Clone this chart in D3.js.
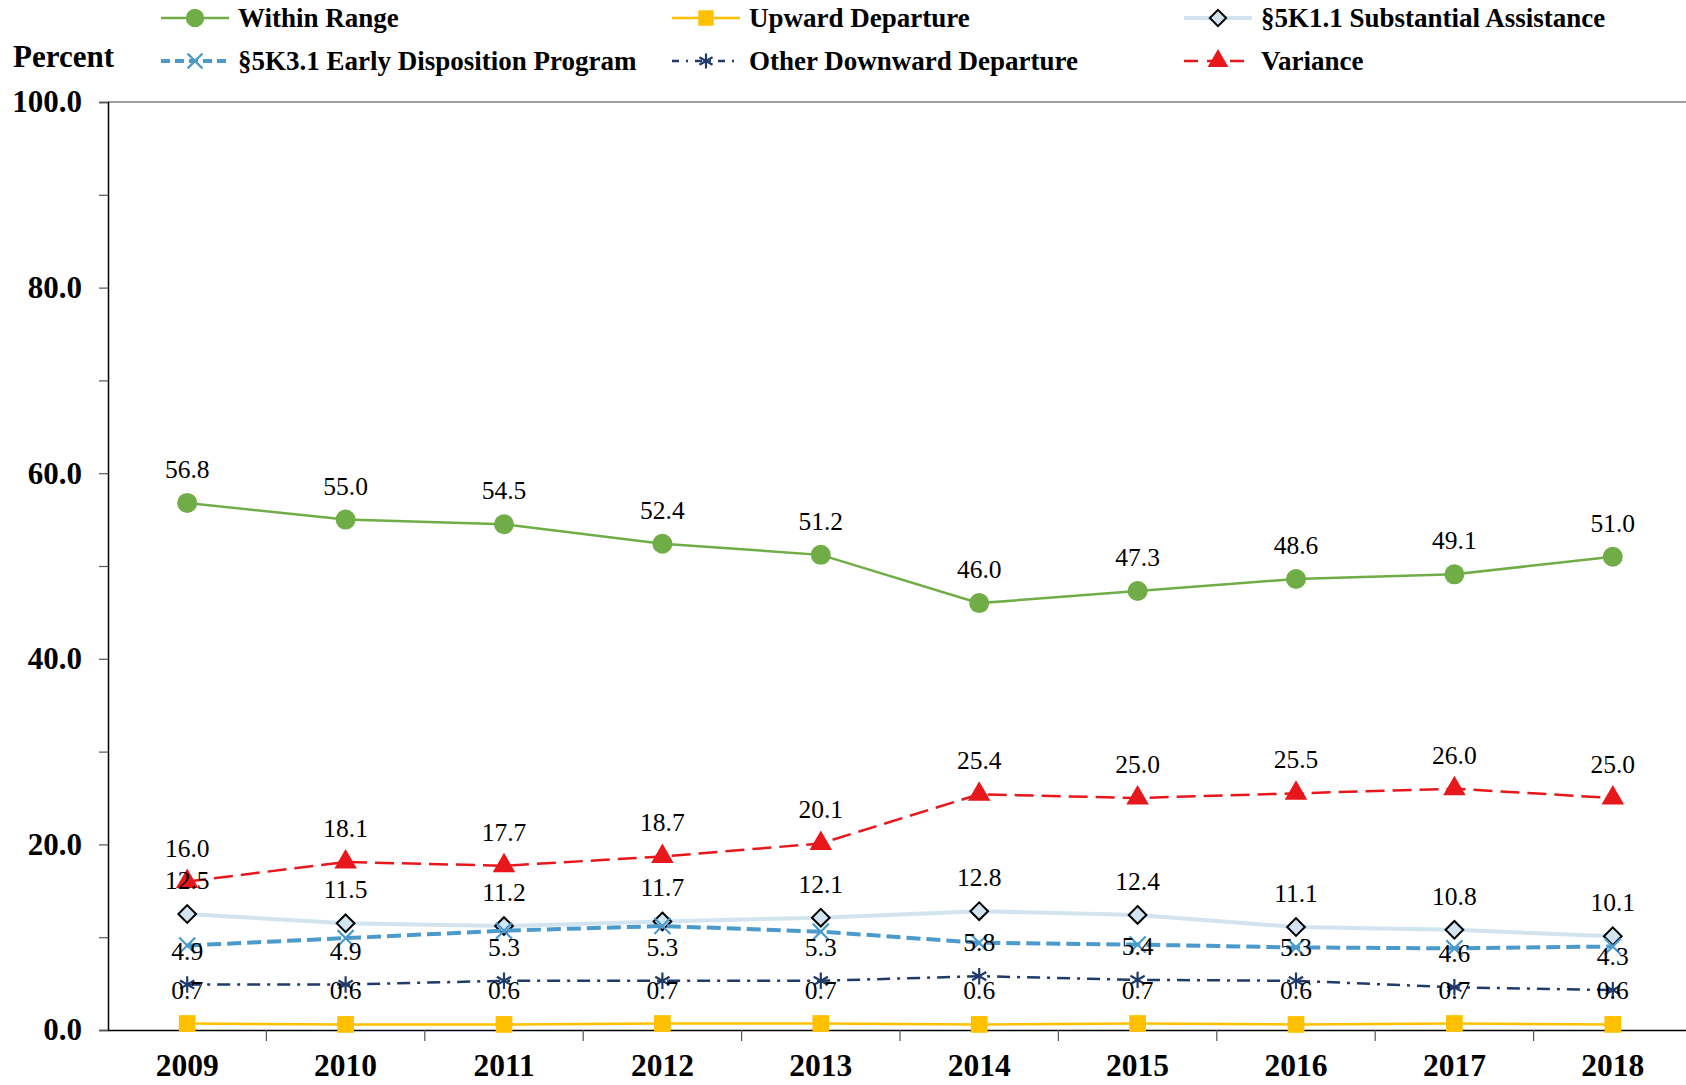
<!DOCTYPE html>
<html>
<head>
<meta charset="utf-8">
<script src="https://cdn.jsdelivr.net/npm/d3@7"></script>
<style>
  body { margin: 0; background: #fff; }
  svg { display: block; font-family: "Liberation Serif", "Times New Roman", serif; }
</style>
</head>
<body>
<div id="canvas"></div>
<script>
const years = ["2009", "2010", "2011", "2012", "2013", "2014", "2015", "2016", "2017", "2018"];
const withinRange = [56.8, 55.0, 54.5, 52.4, 51.2, 46.0, 47.3, 48.6, 49.1, 51.0];
const upwardDeparture = [0.7, 0.6, 0.6, 0.7, 0.7, 0.6, 0.7, 0.6, 0.7, 0.6];
const substantialAssistance = [12.5, 11.5, 11.2, 11.7, 12.1, 12.8, 12.4, 11.1, 10.8, 10.1];
const earlyDisposition = [9.1, 9.9, 10.7, 11.2, 10.6, 9.4, 9.2, 8.9, 8.8, 9.0];
const otherDownward = [4.9, 4.9, 5.3, 5.3, 5.3, 5.8, 5.4, 5.3, 4.6, 4.3];
const variance = [16.0, 18.1, 17.7, 18.7, 20.1, 25.4, 25.0, 25.5, 26.0, 25.0];
const yTicks = [0, 20, 40, 60, 80, 100];

const width = 1686;
const height = 1085;
const margin = { top: 102, left: 108, bottom: 55, right: -6 };

const svg = d3.select("#canvas").append("svg")
    .attr("width", width)
    .attr("height", height);

const x = d3.scaleBand()
    .domain(years)
    .range([margin.left, width - margin.right])
    .padding(0);
const cx = (d) => x(d) + x.bandwidth() / 2;

const y = d3.scaleLinear()
    .domain([0, 100])
    .range([height - margin.bottom, margin.top]);

// plot top border
svg.append("line")
    .attr("x1", margin.left).attr("x2", width)
    .attr("y1", y(100)).attr("y2", y(100))
    .attr("stroke", "#7f7f7f").attr("stroke-width", 1.5);

// y axis
const yAxis = svg.append("g")
    .attr("transform", `translate(${margin.left},0)`)
    .call(d3.axisLeft(y).tickValues(d3.range(0, 101, 10)).tickSize(9)
        .tickFormat((d) => (yTicks.includes(d) ? d.toFixed(1) : "")));
yAxis.select(".domain").attr("stroke", "#000").attr("stroke-width", 1.5);
yAxis.selectAll(".tick line").attr("stroke", "#555").attr("stroke-width", 1.2);
yAxis.selectAll(".tick text")
    .attr("x", -26)
    .attr("font-family", "Liberation Serif")
    .attr("font-weight", "bold")
    .attr("font-size", 31)
    .attr("fill", "#000");

// x axis
const xAxis = svg.append("g")
    .attr("transform", `translate(0,${y(0)})`)
    .call(d3.axisBottom(x).tickSize(0).tickSizeOuter(0));
xAxis.select(".domain").attr("stroke", "#000").attr("stroke-width", 1.5);
xAxis.selectAll(".tick text")
    .attr("y", 24)
    .attr("dy", "0.71em")
    .attr("font-family", "Liberation Serif")
    .attr("font-weight", "bold")
    .attr("font-size", 31.5)
    .attr("fill", "#000");
xAxis.selectAll(".sep")
    .data(years.slice(1))
    .enter().append("line")
    .attr("x1", (d) => x(d)).attr("x2", (d) => x(d))
    .attr("y1", 0).attr("y2", 11)
    .attr("stroke", "#555").attr("stroke-width", 1.2);

const series = [
    { name: "Within Range", values: withinRange, color: "#70ad47", width: 2.5, dash: null, legendDash: null,
      symbol: d3.symbolCircle, size: 314, fill: "#70ad47", stroke: "none", labels: true },
    { name: "Upward Departure", values: upwardDeparture, color: "#ffc000", width: 2.5, dash: null, legendDash: null,
      symbol: d3.symbolSquare, size: 280, fill: "#ffc000", stroke: "none", labels: true },
    { name: "§5K1.1 Substantial Assistance", values: substantialAssistance, color: "#d2e4f0", width: 4, dash: null, legendDash: null,
      symbol: d3.symbolDiamond2, size: 200, fill: "#d2e4f0", stroke: "#000", strokeW: 2, labels: true },
    { name: "§5K3.1 Early Disposition Program", values: earlyDisposition, color: "#4a9acc", width: 4, dash: "14,6", legendDash: "9,5",
      symbol: d3.symbolX, size: 170, fill: "none", stroke: "#4a9acc", strokeW: 2.2, labels: false },
    { name: "Other Downward Departure", values: otherDownward, color: "#1f3b6b", width: 2.5, dash: "13,7,3,7", legendDash: "7,7,2,7",
      symbol: d3.symbolAsterisk, size: 190, fill: "none", stroke: "#1f3b6b", strokeW: 2.2, labels: true },
    { name: "Variance", values: variance, color: "#e8171b", width: 2.5, dash: "19,8", legendDash: "14,9",
      symbol: d3.symbolTriangle, size: 220, fill: "#e8171b", stroke: "none", labels: true }
];

const line = d3.line()
    .x((d, i) => cx(years[i]))
    .y((d) => y(d));

const plot = svg.append("g");
series.forEach((s) => {
    const g = plot.append("g");
    g.append("path")
        .datum(s.values)
        .attr("fill", "none")
        .attr("stroke", s.color)
        .attr("stroke-width", s.width)
        .attr("stroke-dasharray", s.dash)
        .attr("d", line);
    g.selectAll("path.pt")
        .data(s.values)
        .enter().append("path")
        .attr("class", "pt")
        .attr("transform", (d, i) => `translate(${cx(years[i])},${y(d)})`)
        .attr("d", d3.symbol().type(s.symbol).size(s.size))
        .attr("fill", s.fill)
        .attr("stroke", s.stroke)
        .attr("stroke-width", s.strokeW || 0);
});

// data labels
const labelG = svg.append("g");
series.filter((s) => s.labels).forEach((s) => {
    labelG.selectAll(null)
        .data(s.values)
        .enter().append("text")
        .attr("x", (d, i) => cx(years[i]))
        .attr("y", (d) => y(d) - 25)
        .attr("text-anchor", "middle")
        .attr("font-size", 25.5)
        .attr("fill", "#000")
        .text((d) => d.toFixed(1));
});

// legend
const legendPos = [
    { x: 161, y: 18 }, { x: 672, y: 18 }, { x: 1184, y: 18 },
    { x: 161, y: 61 }, { x: 672, y: 61 }, { x: 1184, y: 61 }
];
series.forEach((s, i) => {
    const p = legendPos[i];
    const g = svg.append("g").attr("transform", `translate(${p.x},${p.y})`);
    g.append("line")
        .attr("x1", 0).attr("x2", 68)
        .attr("stroke", s.color)
        .attr("stroke-width", s.width)
        .attr("stroke-dasharray", s.legendDash);
    g.append("path")
        .attr("transform", "translate(34,0)")
        .attr("d", d3.symbol().type(s.symbol).size(s.size * 0.85))
        .attr("fill", s.fill)
        .attr("stroke", s.stroke)
        .attr("stroke-width", s.strokeW || 0);
    g.append("text")
        .attr("x", 77)
        .attr("dy", "0.35em")
        .attr("font-weight", "bold")
        .attr("font-size", 27)
        .attr("fill", "#000")
        .text(s.name);
});

svg.append("text")
    .attr("x", 13).attr("y", 56)
    .attr("dy", "0.35em")
    .attr("font-weight", "bold")
    .attr("font-size", 31)
    .text("Percent");
</script>
</body>
</html>
